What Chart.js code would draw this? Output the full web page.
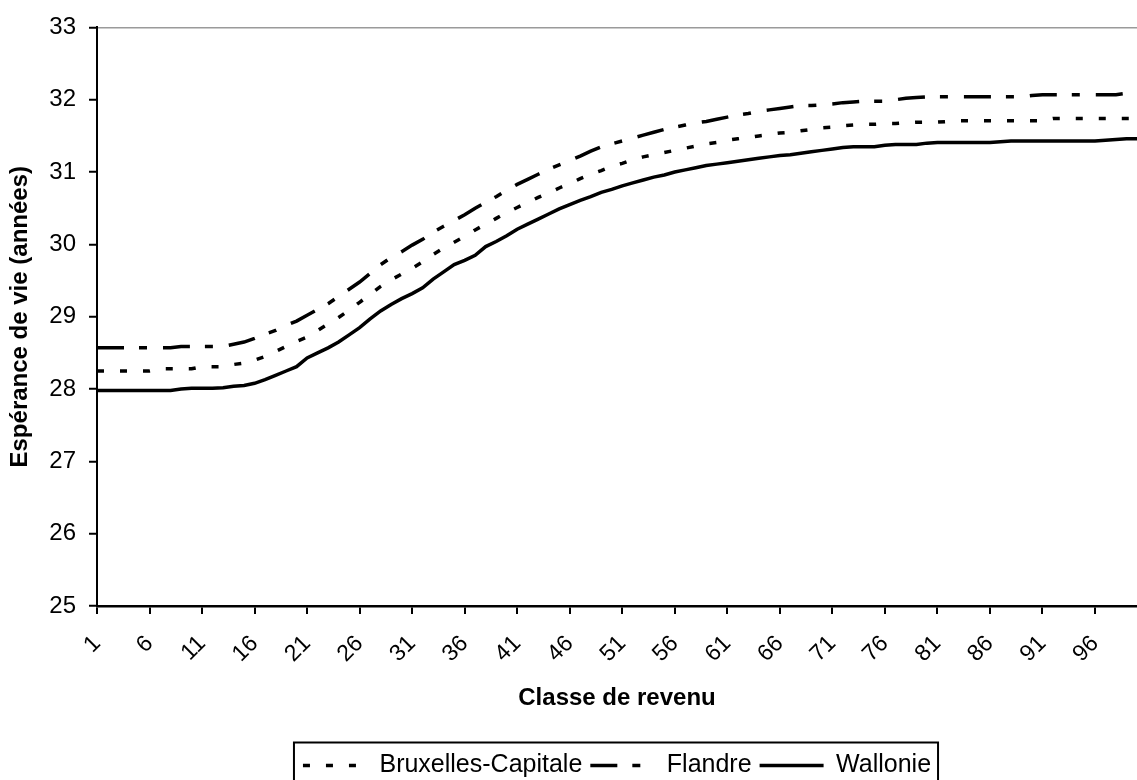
<!DOCTYPE html>
<html lang="fr">
<head>
<meta charset="utf-8">
<title>Espérance de vie par classe de revenu</title>
<script src="https://cdn.jsdelivr.net/npm/chart.js@4.4.1/dist/chart.umd.min.js"></script>
<style>
  html, body { margin: 0; padding: 0; background: #fff; overflow: hidden; }
  #wrap { width: 1137px; height: 780px; position: relative; }
</style>
</head>
<body>
<div id="wrap"><canvas id="chart"></canvas></div>
<script>
// --- données ---
const classes = Array.from({ length: 100 }, (_, i) => String(i + 1));
const tickLabels = ['1', '6', '11', '16', '21', '26', '31', '36', '41', '46',
                    '51', '56', '61', '66', '71', '76', '81', '86', '91', '96'];

const bruxelles = [
  28.25, 28.25, 28.25, 28.25, 28.25, 28.25, 28.28, 28.28, 28.28, 28.28,
  28.31, 28.31, 28.31, 28.34, 28.36, 28.40, 28.45, 28.52, 28.59, 28.66,
  28.72, 28.81, 28.90, 28.99, 29.09, 29.20, 29.31, 29.42, 29.51, 29.59,
  29.67, 29.76, 29.86, 29.95, 30.03, 30.11, 30.20, 30.28, 30.36, 30.44,
  30.51, 30.58, 30.65, 30.71, 30.78, 30.84, 30.91, 30.97, 31.02, 31.08,
  31.12, 31.17, 31.21, 31.24, 31.27, 31.30, 31.33, 31.36, 31.39, 31.41,
  31.44, 31.46, 31.48, 31.50, 31.52, 31.54, 31.55, 31.57, 31.59, 31.61,
  31.62, 31.64, 31.65, 31.66, 31.66, 31.67, 31.67, 31.68, 31.69, 31.69,
  31.69, 31.70, 31.71, 31.71, 31.71, 31.71, 31.71, 31.71, 31.71, 31.71,
  31.71, 31.74, 31.74, 31.74, 31.74, 31.74, 31.74, 31.74, 31.74, 31.74
];

const flandre = [
  28.57, 28.57, 28.57, 28.57, 28.57, 28.57, 28.57, 28.57, 28.59, 28.59,
  28.59, 28.59, 28.59, 28.62, 28.65, 28.70, 28.76, 28.81, 28.88, 28.94,
  29.02, 29.10, 29.18, 29.28, 29.38, 29.48, 29.60, 29.72, 29.82, 29.90,
  29.99, 30.07, 30.17, 30.25, 30.33, 30.41, 30.50, 30.58, 30.66, 30.75,
  30.83, 30.90, 30.97, 31.04, 31.10, 31.16, 31.22, 31.29, 31.35, 31.39,
  31.43, 31.47, 31.51, 31.55, 31.59, 31.62, 31.65, 31.68, 31.70, 31.73,
  31.76, 31.79, 31.81, 31.84, 31.86, 31.88, 31.90, 31.92, 31.92, 31.93,
  31.94, 31.96, 31.97, 31.98, 31.98, 31.98, 32.00, 32.02, 32.03, 32.04,
  32.04, 32.04, 32.04, 32.04, 32.04, 32.04, 32.04, 32.04, 32.04, 32.06,
  32.07, 32.07, 32.07, 32.07, 32.07, 32.07, 32.07, 32.07, 32.09, 32.12
];

const wallonie = [
  27.98, 27.98, 27.98, 27.98, 27.98, 27.98, 27.98, 27.98, 28.00, 28.01,
  28.01, 28.01, 28.02, 28.04, 28.05, 28.08, 28.13, 28.19, 28.25, 28.31,
  28.43, 28.50, 28.57, 28.65, 28.75, 28.85, 28.97, 29.08, 29.17, 29.25,
  29.32, 29.40, 29.52, 29.62, 29.72, 29.78, 29.85, 29.97, 30.04, 30.12,
  30.21, 30.28, 30.35, 30.42, 30.49, 30.55, 30.61, 30.66, 30.72, 30.76,
  30.81, 30.85, 30.89, 30.93, 30.96, 31.00, 31.03, 31.06, 31.09, 31.11,
  31.13, 31.15, 31.17, 31.19, 31.21, 31.23, 31.24, 31.26, 31.28, 31.30,
  31.32, 31.34, 31.35, 31.35, 31.35, 31.37, 31.38, 31.38, 31.38, 31.40,
  31.41, 31.41, 31.41, 31.41, 31.41, 31.41, 31.42, 31.43, 31.43, 31.43,
  31.43, 31.43, 31.43, 31.43, 31.43, 31.43, 31.44, 31.45, 31.46, 31.46
];

const FONT = '"Liberation Sans", Arial, Helvetica, sans-serif';

// style commun des courbes (noir, sans points)
function serie(label, data, dash) {
  return {
    label: label,
    data: data,
    borderColor: '#000',
    backgroundColor: '#000',
    borderWidth: 3.5,
    borderDash: dash,
    pointRadius: 0,
    pointHoverRadius: 0,
    tension: 0,
    fill: false
  };
}

// cadre autour de la légende (comme dans Excel)
const legendFrame = {
  id: 'legendFrame',
  afterDraw(chart) {
    const boxes = chart.legend && chart.legend.legendHitBoxes;
    if (!boxes || !boxes.length) return;
    const first = boxes[0];
    const last = boxes[boxes.length - 1];
    const ctx = chart.ctx;
    ctx.save();
    ctx.strokeStyle = '#000';
    ctx.lineWidth = 2;
    ctx.strokeRect(first.left - 9, first.top - 10.5,
                   last.left + last.width - first.left + 16, 80);
    ctx.restore();
  }
};

new Chart(document.getElementById('chart').getContext('2d'), {
  type: 'line',
  data: {
    labels: classes,
    datasets: [
      serie('Bruxelles-Capitale', bruxelles, [7, 16]),
      serie('Flandre', flandre, [27, 15, 8, 16]),
      serie('Wallonie', wallonie, [])
    ]
  },
  options: {
    responsive: true,
    maintainAspectRatio: false,
    animation: false,
    layout: { padding: { top: 25, right: 0, bottom: 0, left: 0 } },
    scales: {
      x: {
        type: 'category',
        offset: false,
        border: { display: true, color: '#000', width: 2.5 },
        grid: {
          drawOnChartArea: false,
          drawTicks: true,
          tickLength: 8,
          lineWidth: 2,
          tickColor: '#000'
        },
        ticks: {
          autoSkip: false,
          minRotation: 45,
          maxRotation: 45,
          padding: 16,
          color: '#000',
          font: { family: FONT, size: 23 },
          // seules les classes 1, 6, 11 ... portent une étiquette et un trait
          callback: (v, i) => (tickLabels.includes(classes[i]) ? classes[i] : null)
        },
        title: {
          display: true,
          text: 'Classe de revenu',
          color: '#000',
          font: { family: FONT, size: 24, weight: 'bold' },
          padding: { top: 0.5, bottom: 32 }
        }
      },
      y: {
        min: 25,
        max: 33,
        border: { display: true, color: '#000', width: 2 },
        grid: {
          drawOnChartArea: true,
          tickLength: 8,
          lineWidth: 1.5,
          color: c => (c.tick && c.tick.value === 33 ? '#9a9a9a' : 'rgba(0,0,0,0)'),
          tickColor: '#000',
          tickWidth: 2
        },
        ticks: {
          stepSize: 1,
          padding: 13,
          color: '#000',
          font: { family: FONT, size: 24 }
        },
        title: {
          display: true,
          text: 'Espérance de vie (années)',
          color: '#000',
          font: { family: FONT, size: 24, weight: 'bold' },
          padding: { top: 6, bottom: 1.5 }
        }
      }
    },
    plugins: {
      colors: { enabled: false },
      tooltip: { enabled: false },
      legend: {
        position: 'bottom',
        fullSize: false,
        maxHeight: 35,
        labels: {
          usePointStyle: true,
          pointStyle: 'line',
          pointStyleWidth: 64,
          padding: 8,
          color: '#000',
          font: { family: FONT, size: 25 },
          // reprendre les tirets des courbes dans les échantillons de la légende
          generateLabels(chart) {
            const items = Chart.defaults.plugins.legend.labels.generateLabels(chart);
            items.forEach(item => {
              const ds = chart.data.datasets[item.datasetIndex];
              item.lineDash = ds.borderDash;
              item.lineWidth = ds.borderWidth;
              item.strokeStyle = '#000';
            });
            return items;
          }
        }
      }
    }
  },
  plugins: [legendFrame]
});
</script>
</body>
</html>
